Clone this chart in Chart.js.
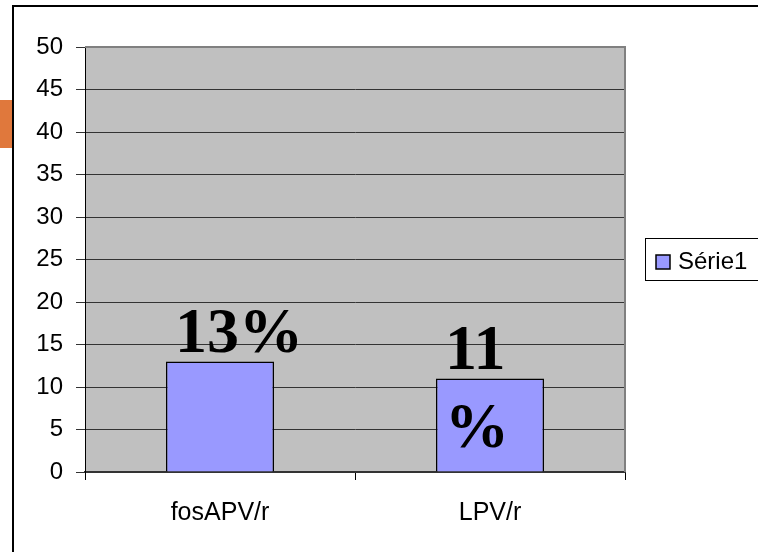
<!DOCTYPE html>
<html>
<head>
<meta charset="utf-8">
<script src="https://cdn.jsdelivr.net/npm/chart.js@4/dist/chart.umd.min.js"></script>
<style>
  html, body { margin: 0; padding: 0; background: #fff; }
  #wrap { width: 758px; height: 552px; }
</style>
</head>
<body>
<div id="wrap"><canvas id="chart" width="758" height="552"></canvas></div>
<script>
// data
var categories = ['fosAPV/r', 'LPV/r'];
var serie1 = [13, 11];
var seriesName = 'Série1';
var barLabels = [['13%'], ['11', '%']];
var yTicks = [0, 5, 10, 15, 20, 25, 30, 35, 40, 45, 50];

var AXIS_FONT = { family: 'Arial, "Liberation Sans", sans-serif', size: 24 };

// background, frame, plot fill, big labels and legend box
var decor = {
    id: 'decor',
    beforeDraw: function(chart){
        var ctx = chart.ctx, a = chart.chartArea;
        ctx.save();
        ctx.fillStyle = '#fff';
        ctx.fillRect(0, 0, chart.width, chart.height);
        // orange tab on the left edge
        ctx.fillStyle = '#E0783C';
        ctx.fillRect(0, 100, 12, 48);
        // outer frame
        ctx.strokeStyle = '#000';
        ctx.lineWidth = 2;
        ctx.beginPath();
        ctx.moveTo(13, chart.height + 5);
        ctx.lineTo(13, 6);
        ctx.lineTo(chart.width + 5, 6);
        ctx.stroke();
        // plot area
        ctx.fillStyle = '#C0C0C0';
        ctx.fillRect(a.left, a.top, a.right - a.left, a.bottom - a.top);
        ctx.restore();
    },
    afterDraw: function(chart){
        var ctx = chart.ctx, a = chart.chartArea;
        ctx.save();
        // gray edge of plot area (top and right)
        ctx.strokeStyle = '#808080';
        ctx.lineWidth = 2;
        ctx.beginPath();
        ctx.moveTo(a.left, a.top);
        ctx.lineTo(a.right, a.top);
        ctx.lineTo(a.right, a.bottom);
        ctx.stroke();

        // big percent labels
        var meta = chart.getDatasetMeta(0);
        ctx.fillStyle = '#000';
        ctx.font = 'bold 64px "Liberation Serif", "Times New Roman", serif';
        ctx.textAlign = 'left';
        ctx.textBaseline = 'alphabetic';
        meta.data.forEach(function(bar, i){
            barLabels[i].forEach(function(line, j){
                ctx.fillText(line, bar.x - 45, bar.y - 10 + j * 78);
            });
        });

        // legend
        ctx.fillStyle = '#fff';
        ctx.fillRect(646, 238, 120, 42);
        ctx.strokeStyle = '#000';
        ctx.lineWidth = 1;
        ctx.strokeRect(645.5, 238.5, 120, 42);
        ctx.fillStyle = chart.data.datasets[0].backgroundColor;
        ctx.fillRect(656, 255, 14, 14);
        ctx.lineWidth = 1.5;
        ctx.strokeRect(656, 255, 14, 14);
        ctx.fillStyle = '#000';
        ctx.font = '24px Arial, "Liberation Sans", sans-serif';
        ctx.textBaseline = 'alphabetic';
        ctx.fillText(chart.data.datasets[0].label, 678, 269);
        ctx.restore();
    }
};

new Chart(document.getElementById('chart'), {
    type: 'bar',
    data: {
        labels: categories,
        datasets: [
            {
                label: seriesName,
                data: serie1,
                backgroundColor: '#9999FF',
                borderColor: '#000',
                borderWidth: 1.5,
                categoryPercentage: 0.8,
                barPercentage: 0.5
            }
        ]
    },
    options: {
        responsive: false,
        animation: false,
        layout: { padding: { left: 0, right: 133, top: 47, bottom: 0 } },
        plugins: {
            legend: { display: false },
            tooltip: { enabled: false }
        },
        scales: {
            x: {
                afterFit: function(s){ s.height = 80; },
                grid: { display: true, drawOnChartArea: false, drawTicks: true, tickLength: 8, color: '#000', offset: true },
                border: { display: true, color: '#333', width: 2 },
                ticks: { color: '#000', font: { family: AXIS_FONT.family, size: 25 }, padding: 18, maxRotation: 0 }
            },
            y: {
                min: 0,
                max: 50,
                afterFit: function(s){ s.width = 85; },
                afterBuildTicks: function(s){
                    s.ticks = yTicks.map(function(v){ return { value: v }; });
                },
                grid: { color: '#333', tickLength: 9, drawTicks: true },
                border: { display: true, color: '#000', width: 1 },
                ticks: { color: '#000', font: AXIS_FONT, padding: 13 }
            }
        }
    },
    plugins: [decor]
});
</script>
</body>
</html>
